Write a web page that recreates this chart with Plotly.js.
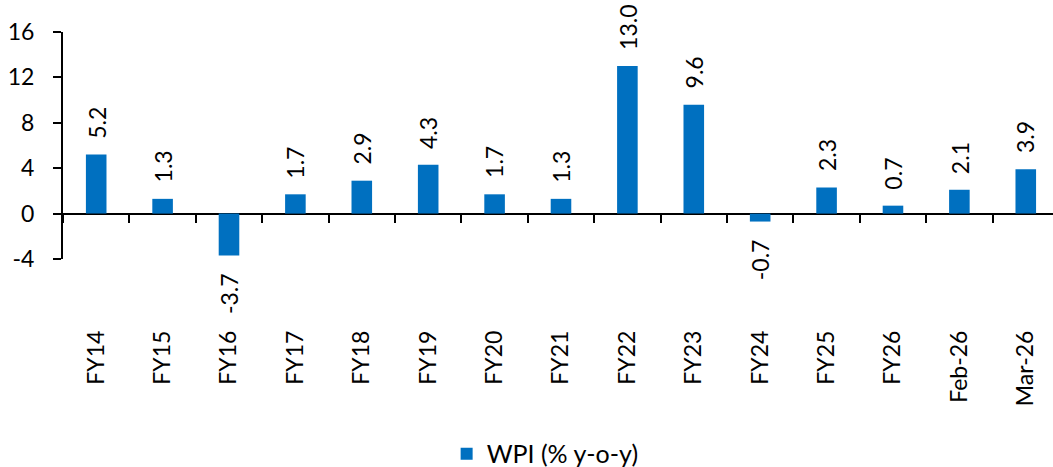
<!DOCTYPE html>
<html>
<head>
<meta charset="utf-8">
<script src="https://cdn.plot.ly/plotly-3.0.1.min.js"></script>
<style>
html,body{margin:0;padding:0;background:#fff;}
#chart{width:1053px;height:467px;}
</style>
</head>
<body>
<div id="chart"></div>
<script>
const categories = ["FY14","FY15","FY16","FY17","FY18","FY19","FY20","FY21","FY22","FY23","FY24","FY25","FY26","Feb-26","Mar-26"];
const wpi = [5.2, 1.3, -3.7, 1.7, 2.9, 4.3, 1.7, 1.3, 13.0, 9.6, -0.7, 2.3, 0.7, 2.1, 3.9];
const seriesName = "WPI (% y-o-y)";
const yTicks = [-4, 0, 4, 8, 12, 16];

const FONT = "Lato, 'Open Sans', sans-serif";
const BLUE = "#0070C0";

const traces = [
  {
    type: "bar",
    x: categories,
    y: wpi,
    name: seriesName,
    marker: {color: BLUE},
    hoverinfo: "x+y",
    xaxis: "x",
    yaxis: "y"
  },
  {
    type: "bar",
    x: categories,
    y: wpi,
    showlegend: false,
    hoverinfo: "skip",
    marker: {color: "rgba(0,0,0,0)"},
    xaxis: "x2",
    yaxis: "y"
  }
];

const annotations = categories.map((c, i) => {
  const v = wpi[i];
  const pos = v >= 0;
  return {
    x: c, y: v, xref: "x", yref: "y",
    text: v.toFixed(1),
    textangle: -90,
    showarrow: false,
    xanchor: "center",
    yanchor: pos ? "bottom" : "top",
    yshift: pos ? 14 : -16,
    font: {family: FONT, size: 23, color: "#000"}
  };
});

const xr = [-0.5, 14.41];
const layout = {
  width: 1053, height: 467,
  margin: {l: 63, r: 0, t: 32, b: 208},
  paper_bgcolor: "#fff",
  plot_bgcolor: "#fff",
  bargap: 0.69,
  showlegend: true,
  legend: {
    orientation: "h",
    xref: "paper",
    x: 0.487, xanchor: "center",
    yref: "container",
    y: 0.028, yanchor: "middle",
    font: {family: FONT, size: 25, color: "#000"}
  },
  xaxis: {
    type: "category",
    range: xr,
    showline: false,
    showgrid: false,
    zeroline: false,
    ticks: "",
    tickangle: -90,
    ticklabelstandoff: 66,
    tickfont: {family: FONT, size: 23, color: "#000"},
    fixedrange: true
  },
  xaxis2: {
    type: "category",
    overlaying: "x",
    anchor: "free",
    position: 0.2,
    side: "bottom",
    range: xr,
    showline: false,
    showgrid: false,
    zeroline: false,
    showticklabels: false,
    ticks: "outside",
    tickson: "boundaries",
    ticklen: 8,
    tickwidth: 2,
    tickcolor: "#000",
    fixedrange: true
  },
  yaxis: {
    range: [-4, 16],
    tickvals: yTicks,
    ticktext: yTicks.map(String),
    showline: true,
    linecolor: "#000",
    linewidth: 2,
    ticks: "outside",
    ticklen: 8,
    tickwidth: 2,
    tickcolor: "#000",
    showgrid: false,
    zeroline: true,
    zerolinecolor: "#000",
    zerolinewidth: 2,
    ticklabelstandoff: 14,
    tickfont: {family: FONT, size: 23, color: "#000"},
    fixedrange: true
  },
  annotations: annotations
};

Plotly.newPlot("chart", traces, layout, {displayModeBar: false, staticPlot: true});
</script>
</body>
</html>
